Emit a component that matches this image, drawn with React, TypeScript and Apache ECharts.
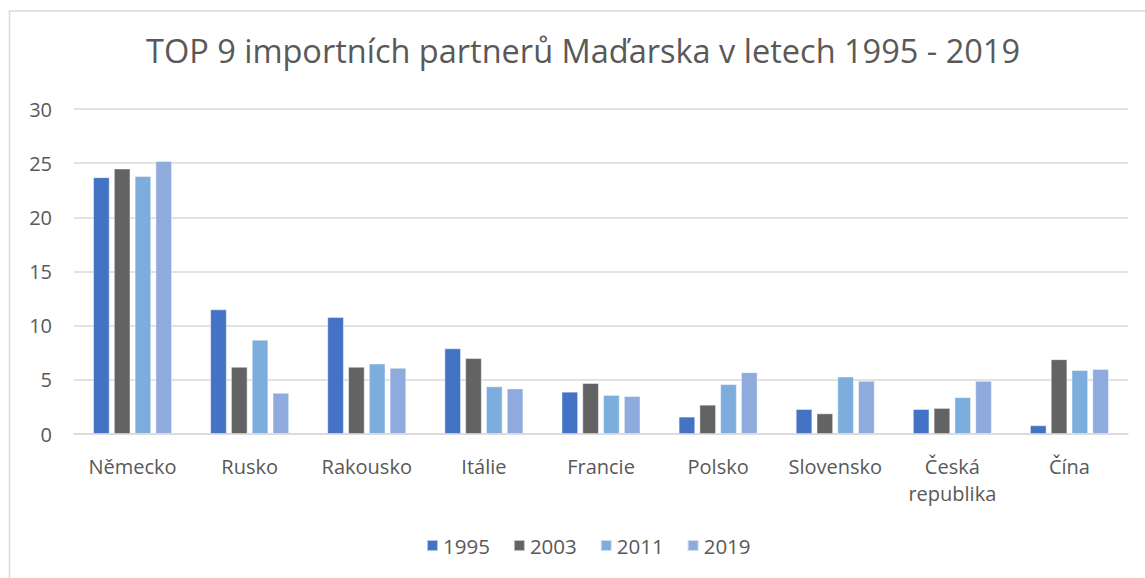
import React, { useEffect, useRef } from "react";
import * as echarts from "echarts";

const categories = ["Německo", "Rusko", "Rakousko", "Itálie", "Francie", "Polsko", "Slovensko", "Česká\nrepublika", "Čína"];
const years = ["1995", "2003", "2011", "2019"];
const v1995 = [23.7, 11.5, 10.8, 7.9, 3.9, 1.6, 2.3, 2.3, 0.8];
const v2003 = [24.5, 6.2, 6.2, 7.0, 4.7, 2.7, 1.9, 2.4, 6.9];
const v2011 = [23.8, 8.7, 6.5, 4.4, 3.6, 4.6, 5.3, 3.4, 5.9];
const v2019 = [25.2, 3.8, 6.1, 4.2, 3.5, 5.7, 4.9, 4.9, 6.0];
const yTicks = [0, 5, 10, 15, 20, 25, 30];
const colors = ["#4472c4", "#636363", "#7caddd", "#8faadc"];
const title = "TOP 9 importních partnerů Maďarska v letech 1995 - 2019";

const FONT = "'Open Sans', Lato, sans-serif";

export default function App() {
  const ref = useRef<HTMLDivElement>(null);
  useEffect(() => {
    if (!ref.current) return;
    const chart = echarts.init(ref.current, undefined, { renderer: "svg" });
    const seriesData = [v1995, v2003, v2011, v2019];
    chart.setOption({
      animation: false,
      backgroundColor: "#ffffff",
      textStyle: { fontFamily: FONT },
      title: {
        text: title,
        left: 141,
        top: 29,
        textStyle: { fontFamily: FONT, fontSize: 32.5, fontWeight: "normal", color: "#595959" },
      },
      graphic: [
        {
          type: "rect",
          shape: { x: 9.5, y: 11, width: 1300, height: 700 },
          style: { fill: "none", stroke: "#d9d9d9", lineWidth: 1.5 },
          silent: true,
          z: -1,
        },
      ],
      legend: {
        bottom: 17,
        left: 421,
        itemWidth: 11,
        itemHeight: 11,
        itemGap: 23,
        icon: "rect",
        textStyle: { fontFamily: FONT, fontSize: 20.5, color: "#595959" },
        data: years,
      },
      grid: { left: 74, right: 17, top: 109, bottom: 144, containLabel: false },
      xAxis: {
        type: "category",
        data: categories,
        axisLine: { show: true, lineStyle: { color: "#d9d9d9", width: 1.5 } },
        axisTick: { show: false },
        axisLabel: { interval: 0, fontFamily: FONT, fontSize: 20, color: "#595959", margin: 19, lineHeight: 27 },
      },
      yAxis: {
        type: "value",
        min: yTicks[0],
        max: yTicks[yTicks.length - 1],
        interval: 5,
        axisLine: { show: false },
        axisTick: { show: false },
        splitLine: { lineStyle: { color: "#d9d9d9", width: 1.5 } },
        axisLabel: { fontFamily: FONT, fontSize: 20, color: "#595959", margin: 22 },
      },
      series: years.map((y, i) => ({
        name: y,
        type: "bar",
        data: seriesData[i],
        barWidth: 16.5,
        barGap: "26%",
        itemStyle: { color: colors[i], borderColor: "rgba(255,255,255,0.6)", borderWidth: 0.8 },
      })),
    });
    return () => chart.dispose();
  }, []);
  return (
    <div
      ref={ref}
      style={{ position: "absolute", left: 0, top: 0, width: 1145, height: 578 }}
    />
  );
}
